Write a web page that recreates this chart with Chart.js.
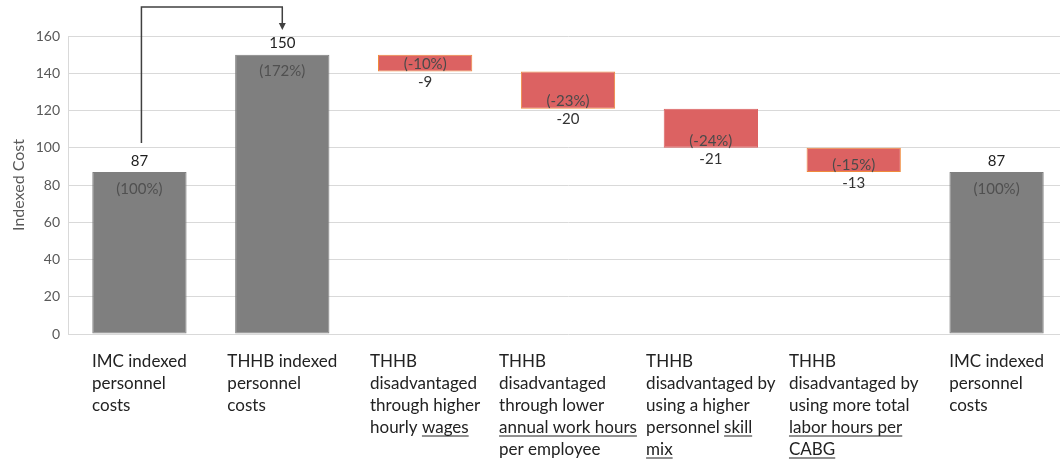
<!DOCTYPE html>
<html>
<head>
<meta charset="utf-8">
<script src="https://cdn.jsdelivr.net/npm/chart.js@4.4.0/dist/chart.umd.min.js"></script>
<style>
  html, body { margin: 0; padding: 0; background: #fff; overflow: hidden; width: 1060px; height: 460px; }
  #wrap { width: 1068px; height: 460px; }
</style>
</head>
<body>
<div id="wrap"><canvas id="c" width="1068" height="460"></canvas></div>
<script>
// Category labels, one string per line; [brackets] mark underlined words.
const categories = [
  ["IMC indexed", "personnel", "costs"],
  ["THHB indexed", "personnel", "costs"],
  ["THHB", "disadvantaged", "through higher", "hourly [wages]"],
  ["THHB", "disadvantaged", "through lower", "[annual work hours]", "per employee"],
  ["THHB", "disadvantaged by", "using a higher", "personnel [skill]", "[mix]"],
  ["THHB", "disadvantaged by", "using more total", "[labor hours per]", "[CABG]"],
  ["IMC indexed", "personnel", "costs"]
];

// Totals are drawn from zero, steps float from the running total.
const values = [87, 150, -9, -20, -21, -13, 87];
const kinds  = ["total", "total", "step", "step", "step", "step", "total"];
const shares = ["(100%)", "(172%)", "(-10%)", "(-23%)", "(-24%)", "(-15%)", "(100%)"];

const yMin = 0;
const yMax = 160;
const yStep = 20;
const yTitle = "Indexed Cost";

// Build floating [low, high] ranges for the waterfall.
let running = 0;
const ranges = values.map((v, i) => {
  if (kinds[i] === "total") { running = v; return [0, v]; }
  const r = [running + v, running];
  running += v;
  return r;
});

const totalFill = "#7f7f7f";
const stepFill = "#dc6262";
const stepEdges = ["#f08a3c", "#f08a3c", "#dc6262", "#f08a3c"];
let stepIdx = 0;
const fills = kinds.map(k => k === "total" ? totalFill : stepFill);
const edges = kinds.map(k => k === "total" ? totalFill : stepEdges[stepIdx++]);

const FONT = "Lato, 'Open Sans', sans-serif";

const annotate = {
  id: "annotate",
  afterDatasetsDraw(chart) {
    const ctx = chart.ctx;
    const bars = chart.getDatasetMeta(0).data;
    ctx.save();
    ctx.textAlign = "center";
    ctx.textBaseline = "middle";
    ctx.font = "15px " + FONT;
    bars.forEach((bar, i) => {
      const top = Math.min(bar.y, bar.base);
      const bottom = Math.max(bar.y, bar.base);
      if (kinds[i] === "total") {
        ctx.fillStyle = "#1e1e1e";
        ctx.fillText(String(values[i]), bar.x, top - 11);
        ctx.fillStyle = "#505050";
        ctx.fillText(shares[i], bar.x, top + 17);
      } else {
        ctx.fillStyle = "#4a4a4a";
        ctx.fillText(shares[i], bar.x, bottom - 7);
        ctx.fillStyle = "#333333";
        ctx.fillText(String(values[i]), bar.x, bottom + 11);
      }
    });

    // Bracket arrow from the first total to the second one.
    const a = bars[0], b = bars[1];
    const aTop = Math.min(a.y, a.base);
    const yLine = 7;
    const tipY = 30;
    ctx.strokeStyle = "#404040";
    ctx.fillStyle = "#404040";
    ctx.lineWidth = 1.5;
    ctx.beginPath();
    ctx.moveTo(a.x + 2, aTop - 29);
    ctx.lineTo(a.x + 2, yLine);
    ctx.lineTo(b.x, yLine);
    ctx.lineTo(b.x, tipY - 6);
    ctx.stroke();
    ctx.beginPath();
    ctx.moveTo(b.x - 3.5, tipY - 7);
    ctx.lineTo(b.x + 3.5, tipY - 7);
    ctx.lineTo(b.x, tipY);
    ctx.closePath();
    ctx.fill();
    ctx.restore();
  },
  afterDraw(chart) {
    const ctx = chart.ctx;
    const bars = chart.getDatasetMeta(0).data;
    ctx.save();
    ctx.font = "17px " + FONT;
    ctx.fillStyle = "#222222";
    ctx.strokeStyle = "#222222";
    ctx.lineWidth = 1;
    ctx.textAlign = "left";
    ctx.textBaseline = "alphabetic";
    const firstBaseline = chart.chartArea.bottom + 33;
    const lineGap = 22;
    categories.forEach((lines, i) => {
      const plain = lines.map(l => l.replace(/[\[\]]/g, ""));
      const w = Math.max(...plain.map(l => ctx.measureText(l).width));
      const left = bars[i].x - w / 2;
      lines.forEach((line, j) => {
        const y = firstBaseline + j * lineGap;
        ctx.fillText(plain[j], left, y);
        const re = /\[([^\]]+)\]/g;
        let m;
        while ((m = re.exec(line)) !== null) {
          const before = line.slice(0, m.index).replace(/[\[\]]/g, "");
          const x0 = left + ctx.measureText(before).width;
          const x1 = x0 + ctx.measureText(m[1]).width;
          ctx.beginPath();
          ctx.moveTo(x0, y + 3);
          ctx.lineTo(x1, y + 3);
          ctx.stroke();
        }
      });
    });
    ctx.restore();
  }
};

function draw() {
  new Chart(document.getElementById("c"), {
    type: "bar",
    data: {
      labels: categories.map(l => l.join(" ").replace(/[\[\]]/g, "")),
      datasets: [{
        data: ranges,
        backgroundColor: fills,
        borderColor: edges,
        borderWidth: 1,
        borderSkipped: false,
        barPercentage: 0.66,
        categoryPercentage: 1.0
      }]
    },
    options: {
      responsive: false,
      animation: false,
      devicePixelRatio: 1,
      layout: { padding: { top: 36, bottom: 126, left: 0, right: 0 } },
      plugins: { legend: { display: false }, tooltip: { enabled: false } },
      scales: {
        x: { display: false },
        y: {
          min: yMin,
          max: yMax,
          afterFit(scale) { scale.width = 68; },
          ticks: {
            stepSize: yStep,
            padding: 8,
            color: "#595959",
            font: { family: FONT, size: 14 }
          },
          grid: { color: "#d9d9d9", drawTicks: false },
          border: { display: true, color: "#d9d9d9" },
          title: {
            display: true,
            text: yTitle,
            color: "#595959",
            font: { family: FONT, size: 16 },
            padding: { top: 9, bottom: 0 }
          }
        }
      }
    },
    plugins: [annotate]
  });
}

if (document.fonts && document.fonts.load) {
  document.fonts.load("17px Lato").then(draw, draw);
} else {
  draw();
}
</script>
</body>
</html>
